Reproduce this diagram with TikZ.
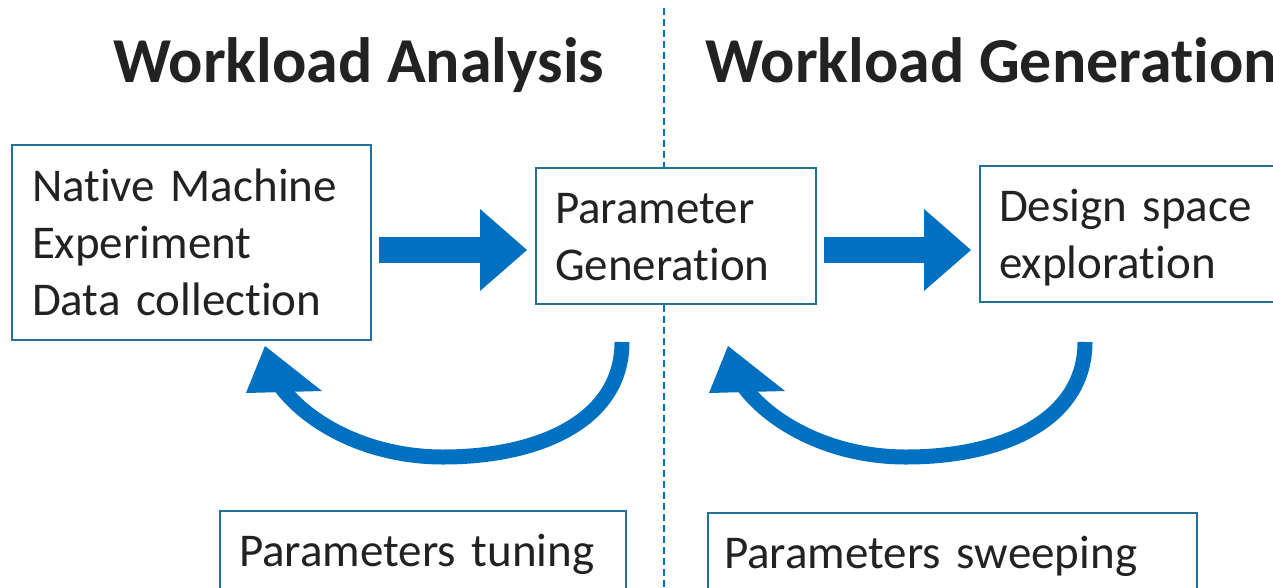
\documentclass[tikz,border=0pt]{standalone}
\usepackage{fontspec}
\setmainfont{Carlito}[Ligatures=NoCommon]
\usetikzlibrary{arrows.meta}
\definecolor{boxblue}{RGB}{33,113,155}
\definecolor{arrblue}{RGB}{0,112,192}
\definecolor{txt}{RGB}{34,34,34}
\begin{document}
\begin{tikzpicture}[x=1pt,y=-1pt,
  box/.style={draw=boxblue, line width=2pt, fill=white, rectangle, anchor=north west,
    align=left, font=\fontsize{47}{57}\selectfont, text=txt, inner ysep=0pt},
  title/.style={anchor=base west, font=\fontsize{64}{70}\selectfont\bfseries, text=txt, inner sep=0pt},
  blockarrow/.style={draw=arrblue, line width=26pt,
    -{Triangle[width=82pt,length=47pt,line width=0pt]}, shorten <=7pt, shorten >=8pt},
  curvearrow/.style={draw=arrblue, line width=15pt},
  curvehead/.style={fill=arrblue},
  divider/.style={draw=arrblue, line width=2pt, dash pattern=on 7pt off 4pt}]
\useasboundingbox (0,0) rectangle (1273,587);
\clip (0,0) rectangle (1273,587);

% divider
\coordinate (dtop) at (664,8);
\coordinate (dbot) at (664,587);
\draw[divider] (dtop) -- (dbot);

% titles
\node[title] (t1) at (113,82) {Workload Analysis};
\node[title] (t2) at (705,82) {Workload Generation};

% boxes
\node[box, minimum width=359pt, inner xsep=20pt, text width=319pt, text height=56pt, text depth=139pt]
  (nm) at (11,144) {Native Machine\\Experiment\\Data collection};
\node[box, minimum width=280pt, inner xsep=19pt, text width=242pt, text height=55pt, text depth=81pt]
  (pg) at (535,167) {Parameter\\Generation};
\node[box, minimum width=320pt, inner xsep=19pt, text width=282pt, text height=55pt, text depth=81pt]
  (ds) at (979,165) {Design space\\exploration};
\node[box, minimum width=406pt, inner xsep=19pt, text width=368pt, text height=55pt, text depth=60pt]
  (pt) at (219,510) {Parameters tuning};
\node[box, minimum width=489pt, inner xsep=16pt, text width=457pt, text height=55pt, text depth=60pt]
  (ps) at (707,512) {Parameters sweeping};

% straight block arrows
\draw[blockarrow] (nm.east |- 0,250) -- (pg.west |- 0,250);
\draw[blockarrow] (pg.east |- 0,250) -- (ds.west |- 0,250);

% curved return arrows
\coordinate (c1s) at (622,342);
\coordinate (c1e) at (281,387);
\draw[curvearrow] (c1s) .. controls (622,420) and (540,457) .. (443,457)
  .. controls (370,457) and (310,425) .. (c1e);
\fill[curvehead] (265,346) -- (246,393) -- (322,391) -- cycle;

\coordinate (c2s) at (1085,342);
\coordinate (c2e) at (744,387);
\draw[curvearrow] (c2s) .. controls (1085,420) and (1003,457) .. (906,457)
  .. controls (833,457) and (773,425) .. (c2e);
\fill[curvehead] (728,346) -- (709,393) -- (785,391) -- cycle;
\end{tikzpicture}
\end{document}
